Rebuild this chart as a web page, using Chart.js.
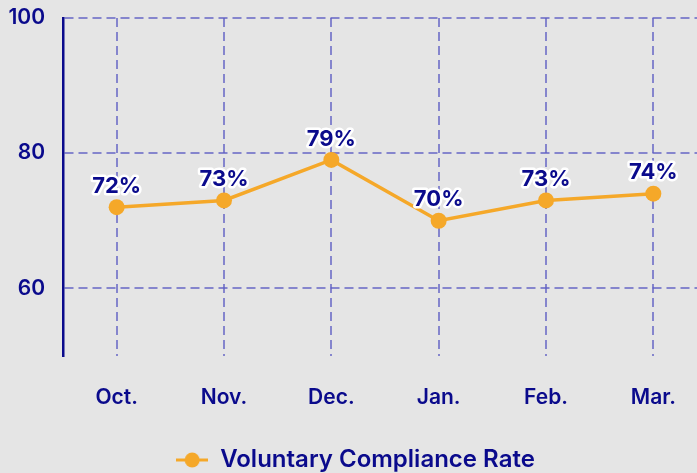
<!DOCTYPE html>
<html>
<head>
<meta charset="utf-8">
<script src="https://cdn.jsdelivr.net/npm/chart.js@4/dist/chart.umd.min.js"></script>
<style>
  html, body { margin: 0; padding: 0; background: #e5e5e5; }
  #wrap { width: 697px; height: 473px; overflow: hidden; }
  #chart { display: block; }
</style>
</head>
<body>
<div id="wrap"><canvas id="chart" width="715" height="473"></canvas></div>
<script>
// data
const months = ['Oct.', 'Nov.', 'Dec.', 'Jan.', 'Feb.', 'Mar.'];
const complianceRate = [72, 73, 79, 70, 73, 74];
const yTicks = [60, 80, 100];
const seriesName = 'Voluntary Compliance Rate';

const navy = '#0a0a8c';
const orange = '#f5a829';
const gridColor = 'rgba(95, 95, 195, 0.72)';
const fontFamily = 'Inter, "Noto Sans", sans-serif';

// legend marker: short line with a dot in the middle
const marker = document.createElement('canvas');
marker.width = 32;
marker.height = 18;
const mctx = marker.getContext('2d');
mctx.strokeStyle = orange;
mctx.lineWidth = 3;
mctx.beginPath();
mctx.moveTo(0, 9);
mctx.lineTo(32, 9);
mctx.stroke();
mctx.fillStyle = orange;
mctx.beginPath();
mctx.arc(16, 9, 7.5, 0, Math.PI * 2);
mctx.fill();

// percent labels above each point, white outline
const valueLabels = {
  id: 'valueLabels',
  afterDatasetsDraw(chart) {
    const ctx = chart.ctx;
    const meta = chart.getDatasetMeta(0);
    ctx.save();
    ctx.font = '700 22px ' + fontFamily;
    ctx.textAlign = 'center';
    ctx.textBaseline = 'bottom';
    ctx.lineJoin = 'round';
    meta.data.forEach((pt, i) => {
      const text = chart.data.datasets[0].data[i] + '%';
      const y = pt.y - 10;
      ctx.strokeStyle = '#ffffff';
      ctx.lineWidth = 5;
      ctx.strokeText(text, pt.x, y);
      ctx.fillStyle = navy;
      ctx.fillText(text, pt.x, y);
    });
    ctx.restore();
  }
};

const ctx = document.getElementById('chart').getContext('2d');
new Chart(ctx, {
  type: 'line',
  data: {
    labels: months,
    datasets: [{
      label: seriesName,
      data: complianceRate,
      borderColor: orange,
      backgroundColor: orange,
      borderWidth: 3.5,
      pointRadius: 8,
      pointHoverRadius: 8,
      pointBackgroundColor: orange,
      pointBorderWidth: 0,
      tension: 0
    }]
  },
  options: {
    responsive: false,
    animation: false,
    layout: {
      padding: { left: 4, right: 8, top: -1, bottom: -9 }
    },
    scales: {
      x: {
        offset: true,
        grid: {
          color: gridColor,
          lineWidth: 2,
          drawTicks: false,
          offset: false
        },
        border: { display: false, dash: [9, 5] },
        ticks: {
          color: navy,
          padding: 29,
          font: { family: fontFamily, size: 21, weight: '600' }
        }
      },
      y: {
        min: 50,
        max: 100,
        afterBuildTicks: (scale) => {
          scale.ticks = yTicks.map(v => ({ value: v }));
        },
        afterFit: (scale) => {
          scale.width = 59;
        },
        grid: {
          color: gridColor,
          lineWidth: 2,
          drawTicks: false
        },
        border: { display: true, color: navy, width: 2.5, dash: [9, 5] },
        ticks: {
          color: navy,
          padding: 18,
          // tiny line height keeps the top label from pushing the plot down
          font: { family: fontFamily, size: 21, weight: '600', lineHeight: 0.01 }
        }
      }
    },
    plugins: {
      legend: {
        position: 'bottom',
        labels: {
          color: navy,
          font: { family: fontFamily, size: 24, weight: '600' },
          usePointStyle: true,
          pointStyleWidth: 32,
          padding: 9,
          generateLabels: (chart) => [{
            text: seriesName,
            fontColor: navy,
            pointStyle: marker,
            datasetIndex: 0,
            lineWidth: 0
          }]
        }
      },
      tooltip: { enabled: false }
    }
  },
  plugins: [valueLabels]
});
</script>
</body>
</html>
